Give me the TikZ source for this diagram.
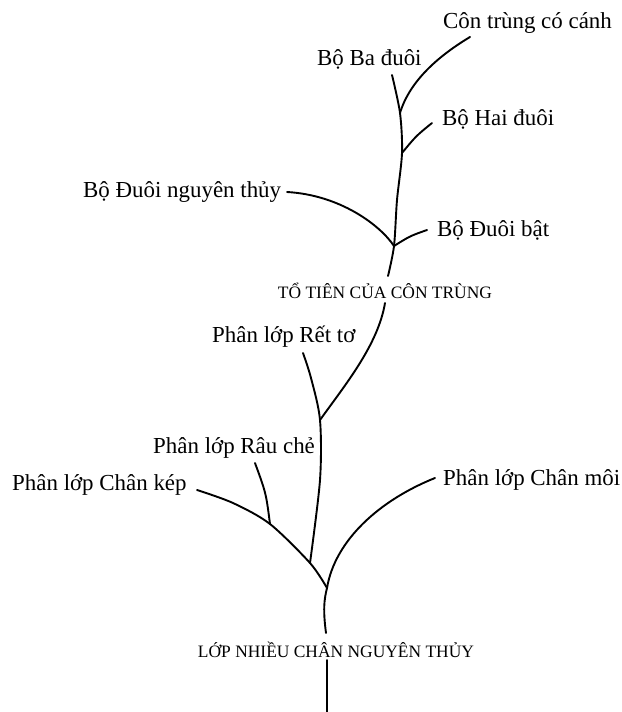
\documentclass[tikz,border=0pt]{standalone}
\usepackage{fontspec}
\setmainfont{Liberation Serif}
\tikzset{
    taxon/.style={font=\fontsize{23}{25}\selectfont, inner sep=0pt, anchor=base west},
    grade/.style={font=\fontsize{17.5}{19}\selectfont, inner sep=0pt, anchor=base},
    branch/.style={line width=1.9bp, line cap=round},
}

\begin{document}
\begin{tikzpicture}[x=1bp, y=-1bp]

    \useasboundingbox (0, 0) rectangle (622, 712);

    \node[taxon] (canh) at (443, 29) {Côn trùng có cánh};
    \node[taxon] (baduoi) at (317, 66) {Bộ Ba đuôi};
    \node[taxon] (haiduoi) at (442, 126) {Bộ Hai đuôi};
    \node[taxon] (nguyenthuy) at (83, 197) {Bộ Đuôi nguyên thủy};
    \node[taxon] (bat) at (437, 236) {Bộ Đuôi bật};
    \node[grade] (totien) at (385, 298) {TỔ TIÊN CỦA CÔN TRÙNG};
    \node[taxon] (retto) at (212, 342) {Phân lớp Rết tơ};
    \node[taxon] (rauche) at (153, 453) {Phân lớp Râu chẻ};
    \node[taxon] (chankep) at (12, 490) {Phân lớp Chân kép};
    \node[taxon] (chanmoi) at (443, 485) {Phân lớp Chân môi};
    \node[grade] (nhieuchan) at (336, 657) {LỚP NHIỀU CHÂN NGUYÊN THỦY};

    \coordinate (tcanh) at (470, 37);
    \coordinate (tba) at (392, 75);
    \coordinate (thai) at (432, 123);
    \coordinate (tnguyen) at (287, 192);
    \coordinate (tbat) at (427, 230);
    \coordinate (s3) at (388, 276);
    \coordinate (s2) at (385, 303);
    \coordinate (tret) at (303, 353);
    \coordinate (trau) at (255, 463);
    \coordinate (tkep) at (197, 490);
    \coordinate (tmoi) at (435, 478);
    \coordinate (s1) at (326, 633);
    \coordinate (s0) at (327, 660);
    \coordinate (root) at (327, 712);

    \coordinate (j5) at (400, 113);
    \coordinate (j4) at (402, 153);
    \coordinate (j3) at (394, 246);
    \coordinate (j2) at (320, 420);
    \coordinate (jret) at (310, 563);
    \coordinate (jrau) at (270, 524);
    \coordinate (j1) at (327, 588);

    \draw[branch] plot[smooth] coordinates {(s3) (j3) (397, 200) (j4) (j5) (tba)};
    \draw[branch] (j5) .. controls (410, 80) and (440, 55) .. (tcanh);
    \draw[branch] (j4) .. controls (416, 136) .. (thai);
    \draw[branch] (tnguyen) .. controls (340, 195) and (380, 225) .. (j3);
    \draw[branch] (j3) .. controls (410, 236) .. (tbat);

    \draw[branch] (s2) .. controls (378, 345) and (345, 385) .. (j2);
    \draw[branch] plot[smooth] coordinates {(jret) (320, 480) (j2) (311, 378) (tret)};
    \draw[branch] plot[smooth] coordinates {(j1) (jret) (jrau) (233, 503) (tkep)};
    \draw[branch] (jrau) .. controls (266, 493) .. (trau);
    \draw[branch] (s1) .. controls (323, 610) and (324, 600) .. (j1);
    \draw[branch] (j1) .. controls (335, 540) and (380, 500) .. (tmoi);
    \draw[branch] (s0) -- (root);

\end{tikzpicture}
\end{document}
